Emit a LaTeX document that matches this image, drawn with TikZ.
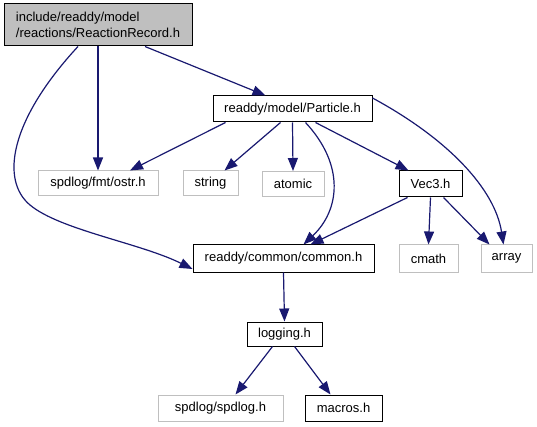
\documentclass[tikz,border=0pt]{standalone}
\usepackage{fontspec}
\setmainfont{Liberation Sans}
\usetikzlibrary{arrows.meta}
\definecolor{edgec}{HTML}{191970}
\definecolor{missc}{HTML}{BFBFBF}
\begin{document}
\begin{tikzpicture}[x=1pt,y=-1pt,
  every node/.style={font=\fontsize{13}{15.5}\selectfont, inner sep=0pt, line width=1pt},
  filebox/.style={draw=black, rectangle, minimum height=#1},
  filebox/.default=26,
  missbox/.style={draw=missc, rectangle, minimum height=25},
  rootbox/.style={draw=black, fill=missc, rectangle, align=left},
  dep/.style={draw=edgec, line width=1.2pt, -{Triangle[length=13pt,width=10pt,fill=edgec]}}]
\useasboundingbox (0,0) rectangle (537,427);
\node[rootbox, minimum width=188, minimum height=42] (root) at (98,25) {include/readdy/model\\/reactions/ReactionRecord.h};
\node[filebox, minimum width=159] (particle) at (292.5,109) {readdy/model/Particle.h};
\node[missbox, minimum width=120] (ostr) at (98,183.5) {spdlog/fmt/ostr.h};
\node[missbox, minimum width=55] (string) at (210.5,183.5) {string};
\node[missbox, minimum width=62] (atomic) at (293,184) {atomic};
\node[filebox, minimum width=63] (vec) at (430.5,184) {Vec3.h};
\node[filebox=27, minimum width=181] (common) at (283.5,258.5) {readdy/common/common.h};
\node[missbox, minimum width=59, minimum height=27] (cmath) at (428.5,258.5) {cmath};
\node[missbox, minimum width=51, minimum height=27] (array) at (506.5,258.5) {array};
\node[filebox=24, minimum width=75] (logging) at (284.5,334) {logging.h};
\node[missbox, minimum width=125, minimum height=26] (spdlog) at (220.5,408) {spdlog/spdlog.h};
\node[filebox, minimum width=77] (macros) at (343.5,408) {macros.h};

\draw[dep] ([xshift=47]root.south) -- ([xshift=-27]particle.north);
\draw[dep] (root.south) -- (ostr.north);
\draw[dep] ([xshift=-20]root.south) .. controls (10,120) and (0,180) .. (30,205)
  .. controls (60,230) and (140,243) .. ([yshift=-10.5]common.west);
\draw[dep] ([xshift=-67]particle.south) -- ([xshift=32]ostr.north);
\draw[dep] ([xshift=-12]particle.south) -- ([xshift=14]string.north);
\draw[dep] (particle.south) -- (atomic.north);
\draw[dep] ([xshift=13]particle.south) .. controls (345,165) and (340,210) .. ([xshift=20]common.north);
\draw[dep] ([xshift=23]particle.south) -- ([xshift=-22]vec.north);
\draw[dep] ([yshift=11]particle.east) .. controls (450,140) and (495,190) .. ([xshift=-3]array.north);
\draw[dep] ([xshift=-23]vec.south) -- ([xshift=27]common.north);
\draw[dep] (vec.south) -- (cmath.north);
\draw[dep] ([xshift=13]vec.south) -- ([xshift=-17]array.north);
\draw[dep] (common.south) -- (logging.north);
\draw[dep] ([xshift=-12]logging.south) -- ([xshift=15]spdlog.north);
\draw[dep] ([xshift=10]logging.south) -- ([xshift=-13]macros.north);
\end{tikzpicture}
\end{document}
